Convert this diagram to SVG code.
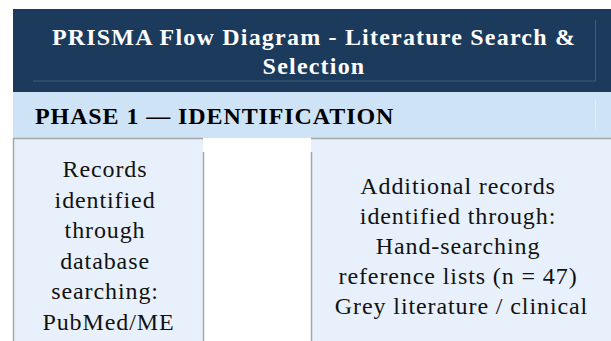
<svg xmlns="http://www.w3.org/2000/svg" width="611" height="341" viewBox="0 0 611 341" font-family="Liberation Serif">
<style>
.c{text-anchor:middle}
.title{font-weight:bold;fill:#ffffff;letter-spacing:1.2px}
.phase{font-weight:bold;fill:#000000;letter-spacing:0.9px}
.body{fill:#111111;letter-spacing:0.9px}
.box{fill:#e8f1fb}
.bd{stroke:#a6a6a6;stroke-width:1.5;fill:none}
.hl{stroke:#3f5d7d;stroke-width:1;fill:none}
</style>
<rect width="611" height="341" fill="#ffffff"/>
<g id="header">
<rect x="13" y="9" width="598" height="83" fill="#1b3a5c"/>
<line class="hl" x1="33" y1="81" x2="595.5" y2="81"/>
<line class="hl" x1="595.5" y1="20" x2="595.5" y2="81"/>
<text class="c title" font-family="Liberation Serif" font-size="24" x="314" y="45">PRISMA Flow Diagram - Literature Search &amp;</text>
<text class="c title" font-family="Liberation Serif" font-size="24" x="314" y="74">Selection</text>
</g>
<g id="phase1">
<rect x="13" y="92" width="598" height="46" fill="#cfe3f6"/>
<line x1="595.5" y1="100" x2="595.5" y2="129" stroke="#e3eefa" stroke-width="1"/>
<text class="phase" font-family="Liberation Serif" font-size="24" x="35" y="124">PHASE 1 — IDENTIFICATION</text>
</g>
<g id="box-database">
<rect class="box" x="13" y="138" width="190" height="203"/>
<line class="bd" x1="13" y1="138.5" x2="203" y2="138.5"/>
<line class="bd" x1="13.5" y1="138" x2="13.5" y2="341"/>
<line class="bd" x1="203.5" y1="152" x2="203.5" y2="341"/>
<text class="c body" font-family="Liberation Serif" font-size="24">
<tspan x="108.5" y="177">Records</tspan>
<tspan x="108.5" y="207.5">identified</tspan>
<tspan x="108.5" y="238">through</tspan>
<tspan x="108.5" y="268.5">database</tspan>
<tspan x="108.5" y="299">searching:</tspan>
<tspan x="108.5" y="329.5">PubMed/ME</tspan>
</text>
</g>
<g id="box-additional">
<rect class="box" x="311" y="138" width="300" height="203"/>
<line class="bd" x1="311" y1="138.5" x2="611" y2="138.5"/>
<line class="bd" x1="311.5" y1="152" x2="311.5" y2="341"/>
<text class="c body" font-family="Liberation Serif" font-size="24">
<tspan x="461.5" y="194">Additional records</tspan>
<tspan x="461.5" y="224">identified through:</tspan>
<tspan x="461.5" y="254">Hand-searching</tspan>
<tspan x="461.5" y="284">reference lists (n = 47)</tspan>
<tspan x="461.5" y="314">Grey literature / clinical</tspan>
</text>
</g>
<g id="connectors"></g>
</svg>
